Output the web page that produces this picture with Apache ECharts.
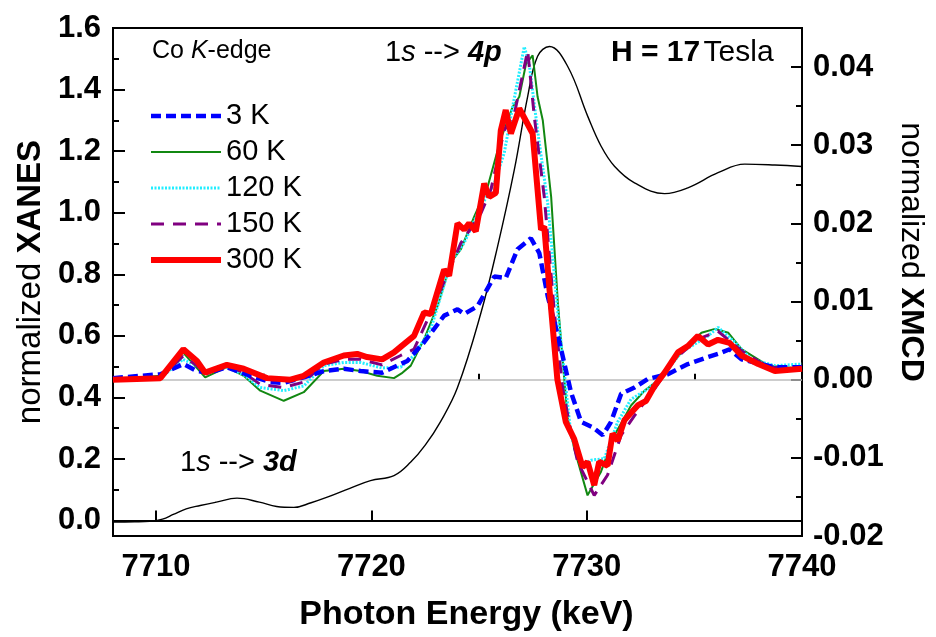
<!DOCTYPE html>
<html>
<head>
<meta charset="utf-8">
<script src="https://cdn.jsdelivr.net/npm/echarts@6/dist/echarts.min.js"></script>
<style>
  html, body { margin: 0; padding: 0; background: #fff; }
  #chart { width: 936px; height: 637px; }
</style>
</head>
<body>
<div id="chart"></div>
<script>
const FONT = '"Liberation Sans", Arial, sans-serif';

// axis ticks
const xMajorTicks = [7710, 7720, 7730, 7740];
const xMinorTicks = [7715, 7725, 7735];
const leftMajorTicks = [0, 0.2, 0.4, 0.6, 0.8, 1.0, 1.2, 1.4, 1.6];
const leftMinorTicks = [0.1, 0.3, 0.5, 0.7, 0.9, 1.1, 1.3, 1.5];
const rightMajorTicks = [-0.02, -0.01, 0, 0.01, 0.02, 0.03, 0.04];
const rightMinorTicks = [-0.015, -0.005, 0.005, 0.015, 0.025, 0.035];

// XANES (left axis), [energy, value]
const xanes = [
  [7708.0, -0.005], [7709.0, -0.004], [7709.7, -0.002], [7710.3, 0.005], [7710.8, 0.02], [7711.4, 0.038],
  [7712.05, 0.049], [7712.8, 0.06], [7713.76, 0.073], [7714.8, 0.06], [7715.6, 0.046],
  [7716.4, 0.043], [7717.2, 0.058], [7717.95, 0.076], [7719.0, 0.105], [7719.96, 0.13],
  [7721.05, 0.146], [7721.83, 0.19], [7722.5, 0.245], [7723.2, 0.32], [7724.0, 0.432],
  [7725.09, 0.675], [7725.86, 0.89], [7726.64, 1.14], [7727.26, 1.378], [7727.72, 1.508],
  [7728.27, 1.54], [7729.12, 1.475], [7730.05, 1.313], [7730.67, 1.216], [7731.29, 1.151],
  [7732.22, 1.097], [7733.62, 1.062], [7734.7, 1.081], [7736.1, 1.13], [7737.34, 1.158],
  [7738.74, 1.155], [7740.0, 1.15]
];

// XMCD (right axis), [energy, value]
const xmcd3K = [
  [7708.0, 0.0002], [7710.2, 0.0007], [7711.27, 0.002], [7711.9, 0.0011], [7712.5, 0.0009],
  [7713.29, 0.0016], [7714.38, 0.0005], [7715.3, -0.0003], [7715.93, -0.0004], [7716.86, 0.0003],
  [7717.79, 0.0011], [7718.72, 0.0014], [7719.5, 0.0011], [7720.5, 0.0009], [7721.67, 0.0024],
  [7722.45, 0.0048], [7723.38, 0.0082], [7724.0, 0.009], [7724.31, 0.0084], [7724.93, 0.0094],
  [7725.71, 0.0132], [7726.24, 0.013], [7726.79, 0.0167], [7727.41, 0.0181], [7727.8, 0.0162],
  [7728.19, 0.0107], [7728.58, 0.0065], [7728.81, 0.0039], [7729.27, -0.0016], [7729.74, -0.0054],
  [7730.28, -0.0061], [7730.75, -0.0071], [7731.13, -0.0054], [7731.6, -0.0018], [7732.22, -0.001],
  [7732.84, 0.0001], [7733.77, 0.0007], [7734.7, 0.002], [7735.64, 0.0029], [7736.1, 0.0033],
  [7736.64, 0.0039], [7737.19, 0.0026], [7738.74, 0.0016], [7740.0, 0.0016]
];
const xmcd60K = [
  [7708.0, 0.0], [7710.2, 0.0005], [7711.25, 0.0035], [7711.8, 0.0018], [7712.28, 0.0003],
  [7713.29, 0.0016], [7714.07, 0.0005], [7714.84, -0.0014], [7715.93, -0.0027], [7716.86, -0.0016],
  [7717.79, 0.0011], [7718.72, 0.0014], [7719.5, 0.0011], [7720.27, 0.0005], [7721.05, 0.0002],
  [7721.4, 0.0008], [7721.83, 0.0018], [7722.45, 0.0052], [7723.07, 0.0094], [7723.69, 0.015],
  [7724.16, 0.0167], [7724.78, 0.0209], [7725.4, 0.0247], [7726.0, 0.0307], [7726.56, 0.0349],
  [7726.87, 0.0362], [7727.18, 0.0404], [7727.49, 0.0415], [7727.72, 0.0362], [7727.96, 0.0332],
  [7728.35, 0.0234], [7728.66, 0.0099], [7728.97, -0.0003], [7729.12, -0.005], [7729.42, -0.0088],
  [7730.04, -0.0148], [7730.66, -0.0118], [7731.29, -0.0071], [7732.06, -0.0033], [7732.69, -0.0014],
  [7733.31, -0.0001], [7734.4, 0.0035], [7735.33, 0.006], [7735.96, 0.0065], [7736.58, 0.006],
  [7737.19, 0.0039], [7738.43, 0.0018], [7740.0, 0.0014]
];
const xmcd120K = [
  [7708.0, 0.0], [7710.2, 0.0002], [7711.25, 0.0026], [7711.9, 0.0018], [7712.28, 0.0009],
  [7713.29, 0.0016], [7714.07, 0.0006], [7714.84, -0.001], [7715.93, -0.0014], [7716.86, -0.0008],
  [7717.79, 0.0018], [7718.72, 0.0022], [7719.5, 0.0022], [7720.5, 0.0015], [7721.36, 0.0016],
  [7721.98, 0.0031], [7722.76, 0.0065], [7723.69, 0.015], [7724.31, 0.0175], [7725.09, 0.0222],
  [7725.71, 0.0251], [7726.17, 0.029], [7726.56, 0.0349], [7727.1, 0.0426], [7727.33, 0.0404],
  [7727.72, 0.0319], [7728.19, 0.0226], [7728.66, 0.0086], [7729.04, -0.0012], [7729.27, -0.0071],
  [7729.74, -0.011], [7730.2, -0.0103], [7730.82, -0.0101], [7731.44, -0.0054], [7732.06, -0.0025],
  [7732.84, -0.0012], [7733.46, 0.0003], [7734.4, 0.0035], [7735.64, 0.0056], [7736.1, 0.0067],
  [7736.88, 0.0048], [7737.66, 0.0026], [7738.74, 0.0018], [7740.0, 0.002]
];
const xmcd150K = [
  [7708.0, 0.0], [7710.2, 0.0002], [7711.25, 0.003], [7711.9, 0.0018], [7712.28, 0.0009],
  [7713.29, 0.0018], [7714.07, 0.0009], [7714.84, -0.0006], [7715.93, -0.001], [7716.86, -0.0003],
  [7717.79, 0.002], [7718.72, 0.0026], [7719.5, 0.0026], [7720.5, 0.0019], [7721.36, 0.0031],
  [7721.98, 0.0039], [7722.76, 0.0086], [7724.16, 0.0175], [7725.09, 0.0213], [7725.55, 0.0243],
  [7726.17, 0.0319], [7726.64, 0.034], [7727.26, 0.0421], [7727.57, 0.0336], [7728.03, 0.0234],
  [7728.5, 0.0086], [7728.89, -0.0012], [7729.27, -0.0067], [7729.58, -0.0105], [7730.35, -0.0148],
  [7730.97, -0.0122], [7731.6, -0.0071], [7732.22, -0.0046], [7733.15, -0.0012], [7734.08, 0.0026],
  [7735.17, 0.0052], [7736.1, 0.0062], [7737.19, 0.0037], [7738.43, 0.0016], [7740.0, 0.0014]
];
const xmcd300K = [
  [7708.0, 0.0], [7710.2, 0.0002], [7711.27, 0.0039], [7711.9, 0.0024], [7712.28, 0.0009],
  [7713.29, 0.0019], [7714.07, 0.0014], [7715.15, 0.0002], [7716.24, 0.0], [7716.86, 0.0005],
  [7717.79, 0.0022], [7718.72, 0.0031], [7719.34, 0.0033], [7719.8, 0.0029], [7720.5, 0.0026],
  [7721.05, 0.0035], [7721.4, 0.0043], [7721.98, 0.0056], [7722.45, 0.0086], [7722.76, 0.0084],
  [7723.38, 0.0141], [7723.61, 0.0133], [7724.0, 0.02], [7724.31, 0.0192], [7724.54, 0.02],
  [7724.85, 0.019], [7725.24, 0.0251], [7725.47, 0.0234], [7725.78, 0.0239], [7726.01, 0.0319],
  [7726.24, 0.0345], [7726.48, 0.0315], [7726.87, 0.0347], [7727.49, 0.0315], [7727.88, 0.0192],
  [7728.03, 0.0196], [7728.35, 0.009], [7728.64, 0.0], [7729.03, -0.0054], [7729.42, -0.0076],
  [7729.81, -0.0112], [7730.04, -0.0105], [7730.35, -0.0135], [7730.58, -0.0105], [7730.97, -0.011],
  [7731.2, -0.0069], [7731.44, -0.0078], [7731.75, -0.0052], [7732.37, -0.0033], [7732.76, -0.0027],
  [7733.15, -0.0008], [7733.62, 0.0009], [7734.24, 0.0035], [7734.7, 0.0043], [7735.17, 0.0056],
  [7735.64, 0.0045], [7736.1, 0.0051], [7736.64, 0.0047], [7737.19, 0.0031], [7737.97, 0.002],
  [7738.74, 0.0011], [7740.0, 0.0014]
];

const chart = echarts.init(document.getElementById('chart'), null, { renderer: 'canvas' });

const tickLabel = { color: '#000', fontFamily: FONT, fontWeight: 'bold', fontSize: 31 };

const styles = {
  '3 K': { color: '#0000ff', width: 4.5, type: [10, 5] },
  '60 K': { color: '#118811', width: 2 },
  '120 K': { color: '#22eeff', width: 3, type: [2, 1.5] },
  '150 K': { color: '#800080', width: 3, type: [13, 9] },
  '300 K': { color: '#ff0000', width: 6 }
};
const legendNames = ['3 K', '60 K', '120 K', '150 K', '300 K'];

const minorAxis = (extra) => Object.assign({
  type: 'value',
  axisLine: { show: false },
  axisLabel: { show: false },
  splitLine: { show: false }
}, extra);

const xmcdLine = (name, data) => ({
  name,
  type: 'line',
  xAxisIndex: 0,
  yAxisIndex: 1,
  data,
  symbol: 'none',
  itemStyle: { color: styles[name].color },
  lineStyle: styles[name],
  z: 3
});

chart.setOption({
  animation: false,
  backgroundColor: '#fff',
  grid: { left: 113, right: 134, top: 28, bottom: 100, show: true, borderColor: '#000', borderWidth: 2 },
  legend: {
    data: legendNames.map((n) => ({ name: n, lineStyle: { width: styles[n].width } })),
    orient: 'vertical',
    left: 143,
    top: 96,
    itemWidth: 70,
    itemHeight: 16,
    itemGap: 6,
    itemStyle: { opacity: 0 },
    textStyle: { color: '#000', fontFamily: FONT, fontSize: 29, lineHeight: 30, padding: [0, 0, 0, 0] }
  },
  xAxis: [
    {
      type: 'value', min: 7708, max: 7740,
      name: 'Photon Energy (keV)', nameLocation: 'middle', nameGap: 62,
      nameTextStyle: { color: '#000', fontFamily: FONT, fontWeight: 'bold', fontSize: 34, padding: [0, 0, 0, 18] },
      axisLine: { lineStyle: { color: '#000', width: 2 } },
      axisTick: { inside: true, length: 10, customValues: xMajorTicks, lineStyle: { color: '#000', width: 2 } },
      axisLabel: Object.assign({ margin: 16, customValues: xMajorTicks, formatter: (v) => String(v) }, tickLabel),
      splitLine: { show: false }
    },
    minorAxis({
      min: 7708, max: 7740, position: 'bottom',
      axisTick: { inside: true, length: 6, customValues: xMinorTicks, lineStyle: { color: '#000', width: 2 } }
    })
  ],
  yAxis: [
    {
      type: 'value', min: -0.05, max: 1.6, position: 'left',
      name: '{r|normalized }{b|XANES}', nameLocation: 'middle', nameGap: 53, nameRotate: 90,
      nameTextStyle: {
        rich: {
          r: { color: '#000', fontFamily: FONT, fontSize: 33 },
          b: { color: '#000', fontFamily: FONT, fontSize: 33, fontWeight: 'bold' }
        }
      },
      axisLine: { show: true, lineStyle: { color: '#000', width: 2 } },
      axisTick: { inside: true, length: 12, customValues: leftMajorTicks, lineStyle: { color: '#000', width: 2 } },
      axisLabel: Object.assign({ margin: 12, customValues: leftMajorTicks, formatter: (v) => v.toFixed(1) }, tickLabel),
      splitLine: { show: false }
    },
    {
      type: 'value', min: -0.02, max: 0.045, position: 'right',
      name: '{r|normalized }{b|XMCD}', nameLocation: 'middle', nameGap: 78, nameRotate: -90,
      nameTextStyle: {
        padding: [0, 60, 0, 0],
        rich: {
          r: { color: '#000', fontFamily: FONT, fontSize: 32 },
          b: { color: '#000', fontFamily: FONT, fontSize: 32, fontWeight: 'bold' }
        }
      },
      axisLine: { show: true, lineStyle: { color: '#000', width: 2 } },
      axisTick: { inside: true, length: 11, customValues: rightMajorTicks, lineStyle: { color: '#000', width: 2 } },
      axisLabel: Object.assign({ margin: 11, customValues: rightMajorTicks, formatter: (v) => v.toFixed(2) }, tickLabel),
      splitLine: { show: false }
    },
    minorAxis({
      min: -0.05, max: 1.6, position: 'left',
      axisTick: { inside: true, length: 6, customValues: leftMinorTicks, lineStyle: { color: '#000', width: 2 } }
    }),
    minorAxis({
      min: -0.02, max: 0.045, position: 'right',
      axisTick: { inside: true, length: 6, customValues: rightMinorTicks, lineStyle: { color: '#000', width: 2 } }
    })
  ],
  graphic: [
    {
      type: 'text', left: 152, top: 39,
      style: {
        text: '{r|Co }{i|K}{r|-edge}',
        rich: {
          r: { fontFamily: FONT, fontSize: 25, fill: '#000' },
          i: { fontFamily: FONT, fontSize: 25, fontStyle: 'italic', fill: '#000' }
        }
      }
    },
    {
      type: 'text', left: 385, top: 38,
      style: {
        text: '{r|1}{i|s}{r| --> }{b|4p}',
        rich: {
          r: { fontFamily: FONT, fontSize: 29, fill: '#000' },
          i: { fontFamily: FONT, fontSize: 29, fontStyle: 'italic', fill: '#000' },
          b: { fontFamily: FONT, fontSize: 29, fontStyle: 'italic', fontWeight: 'bold', fill: '#000' }
        }
      }
    },
    {
      type: 'text', left: 611, top: 38,
      style: {
        text: '{b|H = 17} {r|Tesla}',
        rich: {
          r: { fontFamily: FONT, fontSize: 30, fill: '#000' },
          b: { fontFamily: FONT, fontSize: 30, fontWeight: 'bold', fill: '#000' }
        }
      }
    },
    {
      type: 'text', left: 180, top: 448,
      style: {
        text: '{r|1}{i|s}{r| --> }{b|3d}',
        rich: {
          r: { fontFamily: FONT, fontSize: 29, fill: '#000' },
          i: { fontFamily: FONT, fontSize: 29, fontStyle: 'italic', fill: '#000' },
          b: { fontFamily: FONT, fontSize: 29, fontStyle: 'italic', fontWeight: 'bold', fill: '#000' }
        }
      }
    }
  ],
  series: [
    {
      name: 'XANES',
      type: 'line',
      xAxisIndex: 0,
      yAxisIndex: 0,
      data: xanes,
      symbol: 'none',
      smooth: 0.4,
      lineStyle: { color: '#000', width: 1.4 },
      z: 2
    },
    xmcdLine('60 K', xmcd60K),
    xmcdLine('120 K', xmcd120K),
    xmcdLine('150 K', xmcd150K),
    Object.assign(xmcdLine('3 K', xmcd3K), {
      markLine: {
        silent: true,
        symbol: 'none',
        z: 1,
        label: { show: false },
        lineStyle: { color: '#bdbdbd', width: 1.5, type: 'solid' },
        data: [{ yAxis: 0 }]
      }
    }),
    xmcdLine('300 K', xmcd300K)
  ]
});
</script>
</body>
</html>
